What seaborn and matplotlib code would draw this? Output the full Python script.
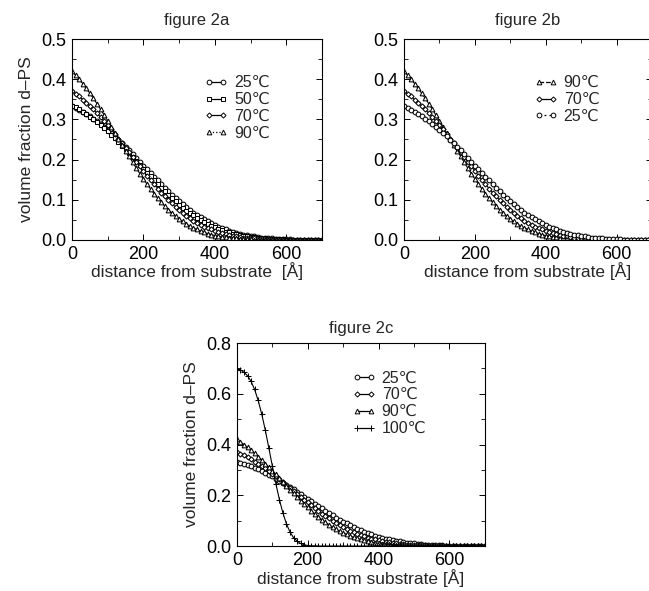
import numpy as np
import pandas as pd
import matplotlib.pyplot as plt
import seaborn as sns
from matplotlib.lines import Line2D
from matplotlib.ticker import MultipleLocator

# depth profiles, one value every 10 A from 0 to 700 A
distance = np.arange(0, 701, 10)

phi_25 = [0.333, 0.329, 0.324, 0.319, 0.314, 0.308, 0.302, 0.295, 0.289, 0.281,
          0.274, 0.266, 0.258, 0.249, 0.241, 0.232, 0.223, 0.213, 0.204, 0.195,
          0.185, 0.176, 0.166, 0.157, 0.148, 0.138, 0.130, 0.121, 0.112, 0.104,
          0.096, 0.089, 0.082, 0.075, 0.068, 0.062, 0.056, 0.051, 0.046, 0.041,
          0.037, 0.033, 0.029, 0.026, 0.023, 0.020, 0.018, 0.015, 0.013, 0.012,
          0.010, 0.009, 0.007, 0.006, 0.005, 0.005, 0.004, 0.003, 0.003, 0.002,
          0.002, 0.002, 0.001, 0.001, 0.001, 0.001, 0.001, 0.000, 0.000, 0.000,
          0.000]
phi_50 = [0.334, 0.330, 0.325, 0.319, 0.314, 0.307, 0.301, 0.294, 0.286, 0.279,
          0.270, 0.262, 0.253, 0.244, 0.235, 0.226, 0.216, 0.207, 0.197, 0.187,
          0.177, 0.167, 0.158, 0.148, 0.139, 0.130, 0.121, 0.112, 0.104, 0.096,
          0.088, 0.080, 0.073, 0.067, 0.061, 0.055, 0.049, 0.044, 0.040, 0.035,
          0.031, 0.028, 0.024, 0.021, 0.019, 0.016, 0.014, 0.012, 0.011, 0.009,
          0.008, 0.007, 0.006, 0.005, 0.004, 0.003, 0.003, 0.002, 0.002, 0.002,
          0.001, 0.001, 0.001, 0.001, 0.001, 0.000, 0.000, 0.000, 0.000, 0.000,
          0.000]
phi_70 = [0.370, 0.364, 0.357, 0.349, 0.342, 0.333, 0.325, 0.315, 0.306, 0.296,
          0.285, 0.275, 0.264, 0.252, 0.241, 0.230, 0.218, 0.206, 0.195, 0.183,
          0.172, 0.160, 0.149, 0.139, 0.128, 0.118, 0.109, 0.099, 0.091, 0.082,
          0.075, 0.067, 0.060, 0.054, 0.048, 0.043, 0.038, 0.033, 0.029, 0.026,
          0.022, 0.019, 0.017, 0.014, 0.012, 0.011, 0.009, 0.008, 0.006, 0.005,
          0.004, 0.004, 0.003, 0.003, 0.002, 0.002, 0.001, 0.001, 0.001, 0.001,
          0.001, 0.000, 0.000, 0.000, 0.000, 0.000, 0.000, 0.000, 0.000, 0.000,
          0.000]
phi_90 = [0.420, 0.410, 0.400, 0.389, 0.377, 0.365, 0.352, 0.339, 0.325, 0.311,
          0.297, 0.282, 0.267, 0.252, 0.237, 0.222, 0.208, 0.193, 0.179, 0.165,
          0.152, 0.139, 0.127, 0.115, 0.104, 0.094, 0.084, 0.075, 0.067, 0.059,
          0.052, 0.046, 0.040, 0.034, 0.030, 0.026, 0.022, 0.019, 0.016, 0.013,
          0.011, 0.009, 0.008, 0.007, 0.005, 0.004, 0.004, 0.003, 0.002, 0.002,
          0.002, 0.001, 0.001, 0.001, 0.001, 0.001, 0.000, 0.000, 0.000, 0.000,
          0.000, 0.000, 0.000, 0.000, 0.000, 0.000, 0.000, 0.000, 0.000, 0.000,
          0.000]
phi_100 = [0.699, 0.694, 0.685, 0.671, 0.649, 0.617, 0.574, 0.521, 0.458, 0.388,
           0.316, 0.246, 0.183, 0.130, 0.087, 0.055, 0.033, 0.019, 0.010, 0.005,
           0.002, 0.001, 0.001, 0.000, 0.000, 0.000, 0.000, 0.000, 0.000, 0.000,
           0.000, 0.000, 0.000, 0.000, 0.000, 0.000, 0.000, 0.000, 0.000, 0.000,
           0.000, 0.000, 0.000, 0.000, 0.000, 0.000, 0.000, 0.000, 0.000, 0.000,
           0.000, 0.000, 0.000, 0.000, 0.000, 0.000, 0.000, 0.000, 0.000, 0.000,
           0.000, 0.000, 0.000, 0.000, 0.000, 0.000, 0.000, 0.000, 0.000, 0.000,
           0.000]

profiles = pd.DataFrame({"distance": distance, "25": phi_25, "50": phi_50,
                         "70": phi_70, "90": phi_90, "100": phi_100})

# marker and marker size per temperature
styles = {"25": ("o", 3.4), "50": ("s", 3.2), "70": ("D", 2.6),
          "90": ("^", 3.4), "100": ("+", 4.5)}

# temperatures shown in each panel and the line style of their legend entry
panels = {
    "a": (["25", "50", "70", "90"], ["-", "-", "-", ":"]),
    "b": (["90", "70", "25"], ["--", "-", (0, (1.5, 2.5))]),
    "c": (["25", "70", "90", "100"], ["-", "-", "-", "-"]),
}

sns.set_theme(style="ticks")
plt.rcParams["font.family"] = ["Liberation Sans", "DejaVu Sans"]
plt.rcParams.update({
    "xtick.direction": "in", "ytick.direction": "in",
    "xtick.top": True, "ytick.right": True,
    "xtick.major.size": 4, "ytick.major.size": 4,
    "xtick.minor.size": 3, "ytick.minor.size": 3,
    "xtick.major.width": 0.7, "ytick.major.width": 0.7,
    "xtick.minor.width": 0.6, "ytick.minor.width": 0.6,
    "axes.linewidth": 0.8, "axes.edgecolor": "black",
    "xtick.color": "black", "ytick.color": "black",
})

fig = plt.figure(figsize=(6.49, 5.91), dpi=100)
axes = {
    "a": fig.add_axes([0.111, 0.594, 0.385, 0.340]),
    "b": fig.add_axes([0.6225, 0.594, 0.382, 0.340]),
    "c": fig.add_axes([0.365, 0.0761, 0.382, 0.3435]),
}

def draw_panel(ax, temps, legend_ls, ymax, ystep, title, xlabel, ylabel, legend_pos, pad):
    handles = []
    for t, ls in zip(temps, legend_ls):
        mk, ms = styles[t]
        sns.lineplot(data=profiles, x="distance", y=t, ax=ax, color="black",
                     lw=0.8, marker=mk, markersize=ms, markerfacecolor="white",
                     markeredgecolor="black", markeredgewidth=0.75)
        handles.append(Line2D([0], [0], color="black", lw=0.9, ls=ls, marker=mk,
                              markersize=ms, markerfacecolor="white",
                              markeredgecolor="black", markeredgewidth=0.7))
    ax.legend(handles, [f"{t}\u2103" for t in temps], loc="upper left",
              bbox_to_anchor=legend_pos, frameon=False, numpoints=2,
              handlelength=1.45, handletextpad=0.4, labelspacing=0.12,
              borderaxespad=0, borderpad=0, fontsize=11.5)
    ax.set_xlim(0, 700)
    ax.set_ylim(0, ymax)
    ax.xaxis.set_major_locator(MultipleLocator(200))
    ax.xaxis.set_minor_locator(MultipleLocator(100))
    ax.yaxis.set_major_locator(MultipleLocator(ystep))
    ax.yaxis.set_minor_locator(MultipleLocator(ystep / 2))
    ax.yaxis.set_major_formatter(plt.FormatStrFormatter("%.1f"))
    ax.tick_params(labelsize=13, pad=4)
    ax.set_title(title, fontsize=12, pad=pad)
    ax.set_xlabel(xlabel, fontsize=12.5, labelpad=0)
    ax.set_ylabel(ylabel, fontsize=12.5, labelpad=5)

draw_panel(axes["a"], *panels["a"], 0.5, 0.1, "figure 2a",
           "distance from substrate  [\u00c5]", "volume fraction d\u2013PS",
           (0.53, 0.82), 10)
draw_panel(axes["b"], *panels["b"], 0.5, 0.1, "figure 2b",
           "distance from substrate [\u00c5]", "", (0.525, 0.82), 10)
draw_panel(axes["c"], *panels["c"], 0.8, 0.2, "figure 2c",
           "distance from substrate [\u00c5]", "volume fraction d\u2013PS",
           (0.465, 0.865), 7)

fig.savefig("out.png", dpi=100)
